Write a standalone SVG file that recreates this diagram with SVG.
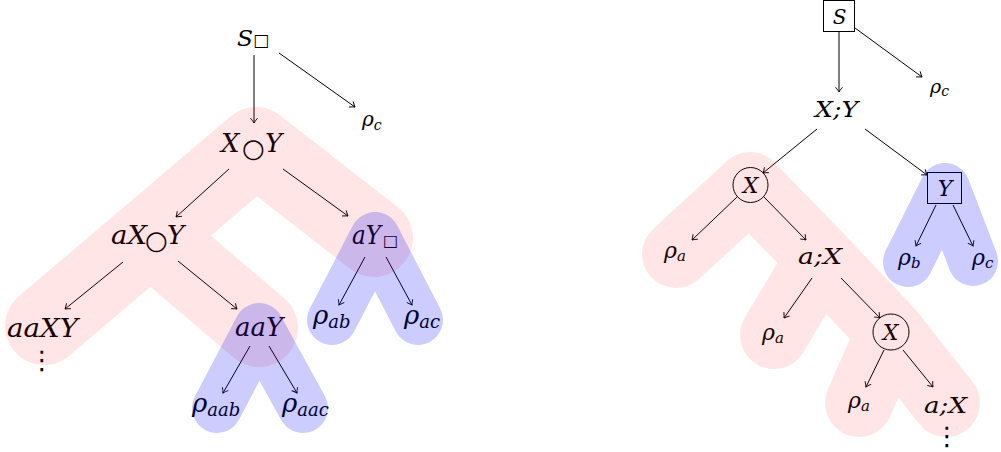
<svg xmlns="http://www.w3.org/2000/svg" width="1001" height="452" viewBox="0 0 1001 452">
<defs>
<style>
.m{font-family:'DejaVu Serif',serif;font-style:italic;fill:#000}
.L{font-size:26px}
.R{font-size:22px}
.sym{font-family:'DejaVu Sans',sans-serif;font-style:normal}
.edge{fill:none;stroke:#000;stroke-width:1;marker-end:url(#arr)}
.shape{fill:none;stroke:#000;stroke-width:1}
.pink{fill:none;stroke:#ff0000;stroke-opacity:0.1;stroke-linecap:round;stroke-linejoin:round}
.blue{fill:none;stroke:#0000ff;stroke-opacity:0.2;stroke-linecap:round;stroke-linejoin:round}
</style>
<marker id="arr" viewBox="-6 -4 8 8" refX="0" refY="0" markerWidth="8" markerHeight="8" orient="auto" markerUnits="userSpaceOnUse">
<path d="M -4.5 -3.2 Q -1.2 -0.6 0 0 Q -1.2 0.6 -4.5 3.2" fill="none" stroke="#000" stroke-width="0.9" stroke-linecap="round"/>
</marker>
</defs>
<rect width="1001" height="452" fill="#fff"/>

<g id="connectors">
<path class="edge" d="M 254 55 L 254 123"/>
<path class="edge" d="M 279 53 L 355 107"/>
<path class="edge" d="M 229 169 L 176 217"/>
<path class="edge" d="M 283 169 L 348 216"/>
<path class="edge" d="M 123 262 L 65 309"/>
<path class="edge" d="M 178 261 L 237 309"/>
<path class="edge" d="M 250 346 L 223 393"/>
<path class="edge" d="M 269 346 L 297 393"/>
<path class="edge" d="M 365 257 L 339 305"/>
<path class="edge" d="M 386 257 L 412 305"/>

<path class="edge" d="M 839 31 L 839 92"/>
<path class="edge" d="M 855 28 L 922 77"/>
<path class="edge" d="M 817 129 L 763 173"/>
<path class="edge" d="M 865 129 L 927 175"/>
<path class="edge" d="M 737 197 L 692 240"/>
<path class="edge" d="M 764 197 L 806 240"/>
<path class="edge" d="M 936 205 L 916 246"/>
<path class="edge" d="M 953 205 L 973 246"/>
<path class="edge" d="M 812 278 L 784 318"/>
<path class="edge" d="M 841 278 L 880 318"/>
<path class="edge" d="M 884 350 L 866 387"/>
<path class="edge" d="M 903 350 L 933 387"/>
</g>

<g id="left-tree">
<g id="n-S1"><text class="m" y="46" font-size="22"><tspan x="237" textLength="16" lengthAdjust="spacingAndGlyphs">S</tspan><tspan class="sym" x="253" y="46" font-size="17">□</tspan></text></g>
<g id="n-rhoc1"><text class="m" x="362" y="126" font-size="20">ρ<tspan font-size="14" dy="4">c</tspan></text></g>
<g id="n-XoY"><text class="m L" y="152"><tspan x="221">X</tspan><tspan class="sym" x="242" y="157" font-size="26">○</tspan><tspan x="265" y="152">Y</tspan></text></g>
<g id="n-aXoY"><text class="m L" y="244"><tspan x="111" textLength="36" lengthAdjust="spacingAndGlyphs">aX</tspan><tspan class="sym" x="145" y="249" font-size="26">○</tspan><tspan x="167" y="244">Y</tspan></text></g>
<g id="n-aYb"><text class="m L" y="244"><tspan x="352" textLength="29" lengthAdjust="spacingAndGlyphs">aY</tspan><tspan class="sym" x="383" y="246" font-size="16">□</tspan></text></g>
<g id="n-aaXY"><text class="m L" x="7" y="337" textLength="71" lengthAdjust="spacingAndGlyphs">aaXY</text>
<text class="sym" x="42" y="369" font-size="26" text-anchor="middle">⋮</text></g>
<g id="n-aaY"><text class="m L" x="235" y="336" textLength="48" lengthAdjust="spacingAndGlyphs">aaY</text></g>
<g id="n-rhoaab"><text class="m L" x="192" y="412">ρ<tspan font-size="18" dy="4">aab</tspan></text></g>
<g id="n-rhoaac"><text class="m L" x="282" y="412">ρ<tspan font-size="18" dy="4">aac</tspan></text></g>
<g id="n-rhoab"><text class="m L" x="313" y="324">ρ<tspan font-size="18" dy="4">ab</tspan></text></g>
<g id="n-rhoac"><text class="m L" x="404" y="324">ρ<tspan font-size="18" dy="4">ac</tspan></text></g>
</g>

<g id="right-tree">
<g id="n-S2"><rect class="shape" x="823.5" y="0.5" width="31" height="31"/><text class="m" x="839.5" y="24" font-size="20" text-anchor="middle">S</text></g>
<g id="n-rhoc2"><text class="m" x="930" y="93" font-size="19">ρ<tspan font-size="14" dy="3">c</tspan></text></g>
<g id="n-XY"><text class="m R" x="815" y="117" textLength="43" lengthAdjust="spacingAndGlyphs">X;Y</text></g>
<g id="n-Xc1"><circle class="shape" cx="750.5" cy="185" r="17.5"/><text class="m R" x="750.5" y="193" text-anchor="middle">X</text></g>
<g id="n-Yb"><rect class="shape" x="927.5" y="172.5" width="34" height="31"/><text class="m R" x="945" y="196" text-anchor="middle">Y</text></g>
<g id="n-rhoa1"><text class="m R" x="664" y="258">ρ<tspan font-size="15" dy="3">a</tspan></text></g>
<g id="n-aX1"><text class="m R" x="798" y="264" textLength="44" lengthAdjust="spacingAndGlyphs">a;X</text></g>
<g id="n-rhob"><text class="m R" x="898" y="265">ρ<tspan font-size="15" dy="3">b</tspan></text></g>
<g id="n-rhoc3"><text class="m R" x="972" y="265">ρ<tspan font-size="15" dy="3">c</tspan></text></g>
<g id="n-rhoa2"><text class="m R" x="762" y="340">ρ<tspan font-size="15" dy="3">a</tspan></text></g>
<g id="n-Xc2"><circle class="shape" cx="891" cy="332" r="18"/><text class="m R" x="890.5" y="340" text-anchor="middle">X</text></g>
<g id="n-rhoa3"><text class="m R" x="848" y="408">ρ<tspan font-size="15" dy="3">a</tspan></text></g>
<g id="n-aX2"><text class="m R" x="924" y="413" textLength="43" lengthAdjust="spacingAndGlyphs">a;X</text>
<text class="sym" x="947" y="445" font-size="26" text-anchor="middle">⋮</text></g>
</g>

<g id="highlights">
<path class="pink" stroke-width="78" d="M 44 326 L 256 146 L 374 238 M 158 242 L 259 328"/>
<path class="blue" stroke-width="50" d="M 332 320 L 375 237 L 418 320 M 217 408 L 259 328 L 303 408"/>
<path class="pink" stroke-width="68" d="M 676 254 L 750 186 L 820 258 L 890 332 L 946 403 M 820 258 L 774 335 M 890 332 L 859 403"/>
<path class="blue" stroke-width="50" d="M 908 262 L 945 188 L 973 261"/>
</g>
</svg>
